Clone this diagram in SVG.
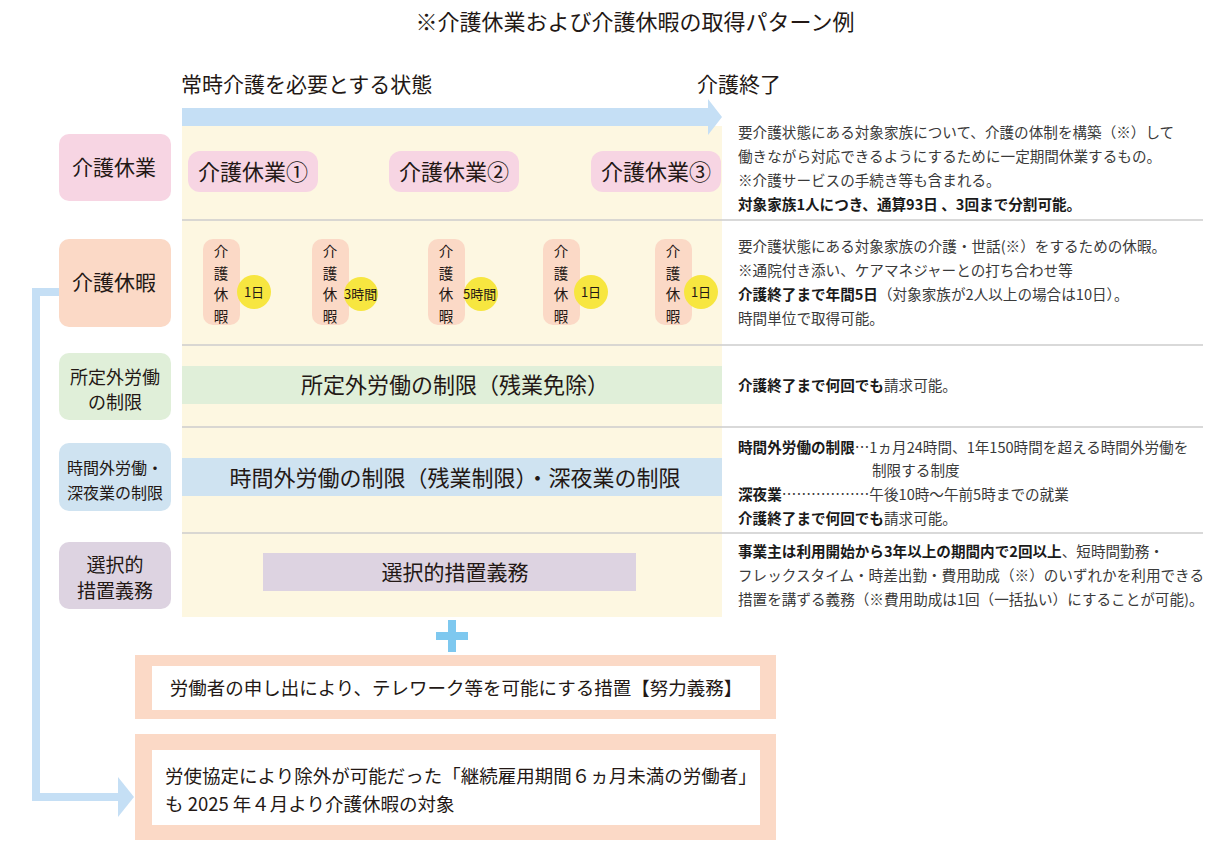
<svg xmlns="http://www.w3.org/2000/svg" width="1226" height="852" viewBox="0 0 1226 852">
<style>
text{font-family:"Noto Sans CJK JP","Noto Sans",sans-serif;fill:#231815}
.d{font-size:14.6px;fill:#3a3a3a}
.b{font-weight:bold;fill:#1a1a1a}
.sep{stroke:#cccccc;stroke-width:1.5}
.lab{font-size:21px}
.pill{fill:#f7d5e3}
.kp{fill:#fbd9c6}
.yc{fill:#f7e640}
.vt{font-size:14.5px}
.sm{font-size:13px}
</style>
<defs>
<marker id="ah" markerWidth="4" markerHeight="5" refX="0" refY="2.5" orient="auto" markerUnits="strokeWidth"><path d="M0,0 L2,2.5 L0,5 Z" fill="#c5dff5"/></marker>
</defs>
<rect width="1226" height="852" fill="#fff"/>
<text x="635" y="30" font-size="22" text-anchor="middle">※介護休業および介護休暇の取得パターン例</text>
<text x="181" y="92" font-size="21">常時介護を必要とする状態</text>
<text x="697" y="92" font-size="21">介護終了</text>
<rect x="182" y="126" width="540" height="491" fill="#fdf7e1"/>
<polygon points="182,108 708,108 708,99 722,117 708,135 708,126 182,126" fill="#c5dff5"/>
<g id="separators">
<line class="sep" x1="182" y1="220" x2="1203" y2="220"/>
<line class="sep" x1="182" y1="345" x2="1203" y2="345"/>
<line class="sep" x1="182" y1="427" x2="1203" y2="427"/>
<line class="sep" x1="182" y1="533" x2="1203" y2="533"/>
</g>
<g id="connectors">
<polyline points="59,292 36,292 36,797 118,797" fill="none" stroke="#c5dff5" stroke-width="8" marker-end="url(#ah)"/>
</g>
<g id="label-kyugyo"><rect x="59" y="134" width="112" height="67" rx="10" fill="#f7d5e3"/><text x="114" y="175" class="lab" text-anchor="middle">介護休業</text></g>
<g id="label-kyuka"><rect x="59" y="239" width="112" height="88" rx="10" fill="#fbd9c6"/><text x="114" y="290" class="lab" text-anchor="middle">介護休暇</text></g>
<g id="label-shotei"><rect x="59" y="353" width="112" height="67" rx="10" fill="#e0efd9"/><text x="115" y="384" font-size="18" text-anchor="middle">所定外労働</text><text x="115" y="409" font-size="18" text-anchor="middle">の制限</text></g>
<g id="label-jikan"><rect x="59" y="443" width="112" height="68" rx="10" fill="#cfe3f1"/><text x="115" y="474" font-size="16" text-anchor="middle">時間外労働・</text><text x="115" y="499" font-size="16" text-anchor="middle">深夜業の制限</text></g>
<g id="label-sentaku"><rect x="59" y="542" width="112" height="67" rx="10" fill="#ddd3e1"/><text x="115" y="572" font-size="19" text-anchor="middle">選択的</text><text x="115" y="598" font-size="19" text-anchor="middle">措置義務</text></g>
<g id="kyugyo1"><rect class="pill" x="188" y="151" width="130" height="41" rx="12"/><text x="253" y="180" font-size="22" text-anchor="middle">介護休業①</text></g>
<g id="kyugyo2"><rect class="pill" x="389" y="151" width="130" height="41" rx="12"/><text x="454" y="180" font-size="22" text-anchor="middle">介護休業②</text></g>
<g id="kyugyo3"><rect class="pill" x="591" y="151" width="130" height="41" rx="12"/><text x="656" y="180" font-size="22" text-anchor="middle">介護休業③</text></g>
<g id="kyuka1"><rect class="kp" x="203" y="239" width="37" height="86" rx="10"/><text class="vt" text-anchor="middle" x="221"><tspan x="221" y="257">介</tspan><tspan x="221" y="278.5">護</tspan><tspan x="221" y="300">休</tspan><tspan x="221" y="321.5">暇</tspan></text><circle class="yc" cx="254" cy="292" r="17"/><text x="254" y="297" class="sm" text-anchor="middle">1日</text></g>
<g id="kyuka2"><rect class="kp" x="312" y="239" width="37" height="86" rx="10"/><text class="vt" text-anchor="middle" x="330"><tspan x="330" y="257">介</tspan><tspan x="330" y="278.5">護</tspan><tspan x="330" y="300">休</tspan><tspan x="330" y="321.5">暇</tspan></text><circle class="yc" cx="361" cy="294" r="17"/><text x="344" y="299" class="sm">3時間</text></g>
<g id="kyuka3"><rect class="kp" x="428" y="239" width="37" height="86" rx="10"/><text class="vt" text-anchor="middle" x="446"><tspan x="446" y="257">介</tspan><tspan x="446" y="278.5">護</tspan><tspan x="446" y="300">休</tspan><tspan x="446" y="321.5">暇</tspan></text><circle class="yc" cx="481" cy="294" r="17"/><text x="463" y="299" class="sm">5時間</text></g>
<g id="kyuka4"><rect class="kp" x="543" y="239" width="37" height="86" rx="10"/><text class="vt" text-anchor="middle" x="561"><tspan x="561" y="257">介</tspan><tspan x="561" y="278.5">護</tspan><tspan x="561" y="300">休</tspan><tspan x="561" y="321.5">暇</tspan></text><circle class="yc" cx="591" cy="292" r="17"/><text x="591" y="297" class="sm" text-anchor="middle">1日</text></g>
<g id="kyuka5"><rect class="kp" x="655" y="239" width="37" height="86" rx="10"/><text class="vt" text-anchor="middle" x="673"><tspan x="673" y="257">介</tspan><tspan x="673" y="278.5">護</tspan><tspan x="673" y="300">休</tspan><tspan x="673" y="321.5">暇</tspan></text><circle class="yc" cx="701" cy="292" r="17"/><text x="701" y="297" class="sm" text-anchor="middle">1日</text></g>
<g id="band-shotei"><rect x="182" y="366" width="540" height="38" fill="#e0efd9"/><text x="455" y="393" font-size="22" text-anchor="middle">所定外労働の制限（残業免除）</text></g>
<g id="band-jikan"><rect x="182" y="458" width="540" height="38" fill="#cfe3f1"/><text x="455" y="486" font-size="22" text-anchor="middle">時間外労働の制限（残業制限）・深夜業の制限</text></g>
<g id="band-sentaku"><rect x="263" y="553" width="373" height="38" fill="#ddd3e1"/><text x="455" y="580" font-size="21" text-anchor="middle">選択的措置義務</text></g>
<g id="plus"><rect x="436" y="632" width="32" height="8" fill="#7ec8ef"/><rect x="448" y="620" width="8" height="32" fill="#7ec8ef"/></g>
<g id="box-telework"><rect x="135" y="655" width="641" height="64" fill="#fbd9c6"/><rect x="152" y="666" width="608" height="44" fill="#fff"/><text x="456" y="695" font-size="18.5" text-anchor="middle">労働者の申し出により、テレワーク等を可能にする措置【努力義務】</text></g>
<g id="box-2025"><rect x="135" y="734" width="641" height="106" fill="#fbd9c6"/><rect x="152" y="750" width="608" height="75" fill="#fff"/><text x="165" y="783" font-size="18.5">労使協定により除外が可能だった「継続雇用期間６ヵ月未満の労働者」</text><text x="165" y="811" font-size="18.5">も 2025 年４月より介護休暇の対象</text></g>
<g id="desc">
<text class="d" x="738" y="138">要介護状態にある対象家族について、介護の体制を構築（※）して</text>
<text class="d" x="738" y="162">働きながら対応できるようにするために一定期間休業するもの。</text>
<text class="d" x="738" y="186">※介護サービスの手続き等も含まれる。</text>
<text class="d b" x="738" y="210">対象家族1人につき、通算93日 、3回まで分割可能。</text>
<text class="d" x="738" y="252">要介護状態にある対象家族の介護・世話(※）をするための休暇。</text>
<text class="d" x="738" y="276">※通院付き添い、ケアマネジャーとの打ち合わせ等</text>
<text class="d" x="738" y="300"><tspan class="b">介護終了まで年間5日</tspan>（対象家族が2人以上の場合は10日）。</text>
<text class="d" x="738" y="324">時間単位で取得可能。</text>
<text class="d" x="738" y="391"><tspan class="b">介護終了まで何回でも</tspan>請求可能。</text>
<text class="d" x="738" y="453"><tspan class="b">時間外労働の制限</tspan>…1ヵ月24時間、1年150時間を超える時間外労働を</text>
<text class="d" x="872" y="476">制限する制度</text>
<text class="d" x="738" y="500"><tspan class="b">深夜業</tspan>………………午後10時〜午前5時までの就業</text>
<text class="d" x="738" y="524"><tspan class="b">介護終了まで何回でも</tspan>請求可能。</text>
<text class="d" x="738" y="557"><tspan class="b">事業主は利用開始から3年以上の期間内で2回以上</tspan>、短時間勤務・</text>
<text class="d" x="738" y="581">フレックスタイム・時差出勤・費用助成（※）のいずれかを利用できる</text>
<text class="d" x="738" y="605">措置を講ずる義務（※費用助成は1回（一括払い）にすることが可能)。</text>
</g>
</svg>
